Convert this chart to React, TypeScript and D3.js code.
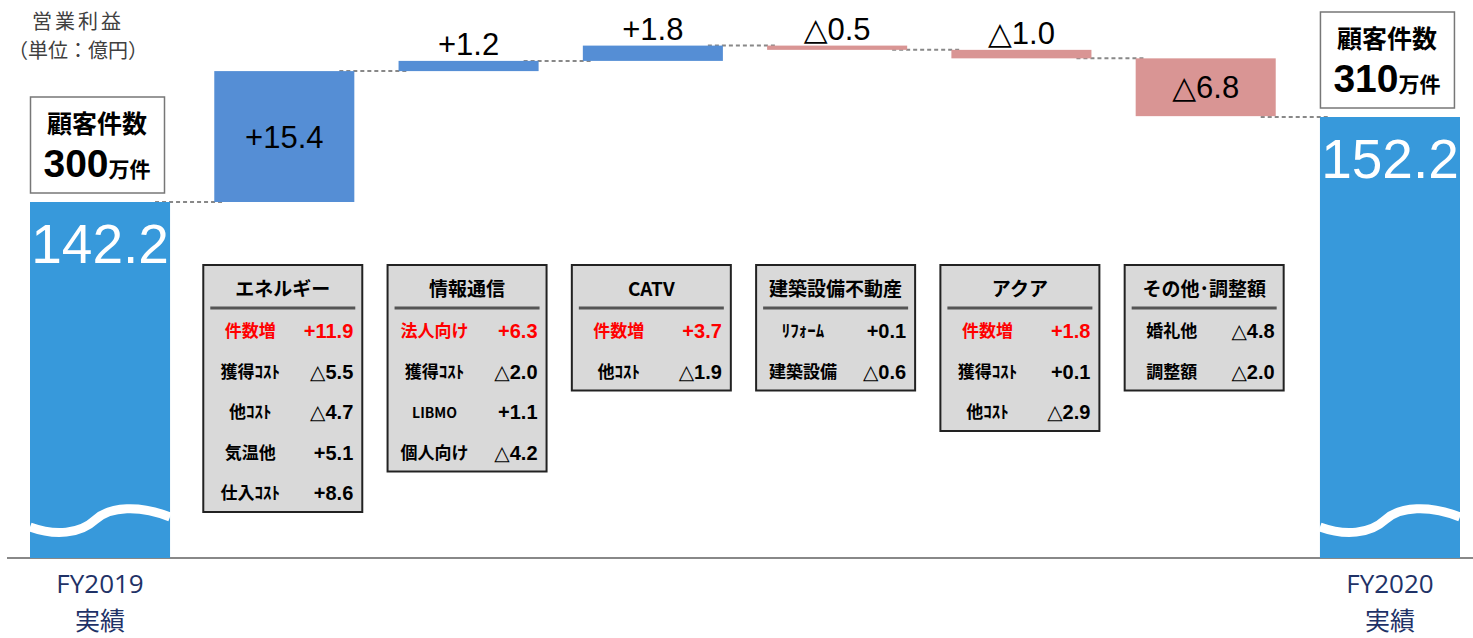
import React, { useEffect, useRef } from 'react';
import * as d3 from 'd3';

// categories along the x axis
const categories = ['FY2019', 'エネルギー', '情報通信', 'CATV', '建築設備不動産', 'アクア', 'その他･調整額', 'FY2020'];
const totalLabels = ['FY2019', 'FY2020'];
const totalSubLabel = '実績';
const totals = [142.2, 152.2];
const customerCounts = ['300', '310'];

// waterfall steps
const deltas = [15.4, 1.2, 1.8, -0.5, -1.0, -6.8];
const deltaLabels = ['+15.4', '+1.2', '+1.8', '△0.5', '△1.0', '△6.8'];

// breakdown tables under each step
const breakdownLabels = [
  ['件数増', '獲得ｺｽﾄ', '他ｺｽﾄ', '気温他', '仕入ｺｽﾄ'],
  ['法人向け', '獲得ｺｽﾄ', 'LIBMO', '個人向け'],
  ['件数増', '他ｺｽﾄ'],
  ['ﾘﾌｫｰﾑ', '建築設備'],
  ['件数増', '獲得ｺｽﾄ', '他ｺｽﾄ'],
  ['婚礼他', '調整額'],
];
const breakdownValues = [
  ['+11.9', '△5.5', '△4.7', '+5.1', '+8.6'],
  ['+6.3', '△2.0', '+1.1', '△4.2'],
  ['+3.7', '△1.9'],
  ['+0.1', '△0.6'],
  ['+1.8', '+0.1', '△2.9'],
  ['△4.8', '△2.0'],
];
const breakdownHighlight = [true, true, true, false, true, false];

const W = 1473;
const H = 638;
const JP = '"Noto Sans CJK JP", "Noto Sans", sans-serif';
const LAT = '"Liberation Sans", Arial, "DejaVu Sans", sans-serif';

export default function App() {
  const ref = useRef<SVGSVGElement>(null);

  useEffect(() => {
    if (!ref.current) return;
    const svg = d3.select(ref.current);
    svg.selectAll('*').remove();

    const baseline = 558;
    const x = d3.scaleBand<string>()
      .domain(categories)
      .range([30, 1460])
      .paddingInner(0.24)
      .paddingOuter(0);
    const bw = x.bandwidth();

    // broken axis: step bars use this scale, total bars run down to the baseline
    const y = d3.scaleLinear().domain([totals[0], totals[1]]).range([202, 117]);

    // build step data
    let level = totals[0];
    const steps = deltas.map((d, i) => {
      const start = level;
      level += d;
      return { cat: categories[i + 1], start, end: level, d, label: deltaLabels[i] };
    });

    // connectors
    const levels = [totals[0], ...steps.map(s => s.end)];
    const conn = svg.append('g');
    levels.forEach((lv, i) => {
      const x0 = (x(categories[i]) as number) + bw - 15;
      const x1 = (x(categories[i + 1]) as number) + 8;
      const yy = i === levels.length - 1 ? y(totals[1]) : y(lv);
      conn.append('line')
        .attr('x1', x0).attr('x2', x1)
        .attr('y1', yy).attr('y2', yy)
        .attr('stroke', '#888')
        .attr('stroke-width', 2)
        .attr('stroke-dasharray', '4 3');
    });

    // baseline
    svg.append('line')
      .attr('x1', 7).attr('x2', W)
      .attr('y1', baseline).attr('y2', baseline)
      .attr('stroke', '#888')
      .attr('stroke-width', 2);

    // total bars
    totals.forEach((t, i) => {
      const cat = categories[i === 0 ? 0 : categories.length - 1];
      const bx = x(cat) as number;
      const top = y(t);
      const g = svg.append('g');
      g.append('rect')
        .attr('x', bx).attr('y', top)
        .attr('width', bw).attr('height', baseline - top)
        .attr('fill', '#3799DB');
      g.append('path')
        .attr('d', `M${bx},527 C${bx + 25},536 ${bx + 50},534 ${bx + 65},520 C${bx + 80},506 ${bx + 110},505 ${bx + bw},517`)
        .attr('fill', 'none')
        .attr('stroke', '#fff')
        .attr('stroke-width', 9);
      g.append('text')
        .attr('x', bx + bw / 2).attr('y', top + 61)
        .attr('text-anchor', 'middle')
        .style('font-family', LAT)
        .style('font-size', '55px')
        .attr('fill', '#fff')
        .text(t.toFixed(1));

      // customer count box
      const boxTop = top - 105;
      g.append('rect')
        .attr('x', bx + 0.5).attr('y', boxTop)
        .attr('width', 134).attr('height', 96)
        .attr('fill', '#fff')
        .attr('stroke', '#777')
        .attr('stroke-width', 1.5);
      g.append('text')
        .attr('x', bx + 67).attr('y', boxTop + 36)
        .attr('text-anchor', 'middle')
        .style('font-family', JP)
        .style('font-weight', 700)
        .style('font-size', '25px')
        .attr('fill', '#000')
        .text('顧客件数');
      const ct = g.append('text')
        .attr('x', bx + 67).attr('y', boxTop + 80)
        .attr('text-anchor', 'middle')
        .style('font-family', JP)
        .style('font-weight', 700)
        .attr('fill', '#000');
      ct.append('tspan').style('font-family', LAT).style('font-size', '39px').text(customerCounts[i]);
      ct.append('tspan').style('font-size', '21px').text('万件');

      // axis labels
      g.append('text')
        .attr('x', bx + bw / 2).attr('y', 593)
        .attr('text-anchor', 'middle')
        .style('font-family', '"Open Sans", "Noto Sans", sans-serif')
        .style('font-size', '26px')
        .attr('fill', '#1F3267')
        .text(totalLabels[i]);
      g.append('text')
        .attr('x', bx + bw / 2).attr('y', 630)
        .attr('text-anchor', 'middle')
        .style('font-family', JP)
        .style('font-size', '25px')
        .attr('fill', '#1F3267')
        .text(totalSubLabel);
    });

    // step bars
    const sg = svg.append('g');
    steps.forEach(s => {
      const bx = x(s.cat) as number;
      const top = y(Math.max(s.start, s.end));
      const bot = y(Math.min(s.start, s.end));
      sg.append('rect')
        .attr('x', bx).attr('y', top)
        .attr('width', bw).attr('height', bot - top)
        .attr('fill', s.d >= 0 ? '#558ED5' : '#D99594');
      const inside = bot - top > 40;
      sg.append('text')
        .attr('x', bx + bw / 2)
        .attr('y', inside ? (top + bot) / 2 + 11 : top - 6)
        .attr('text-anchor', 'middle')
        .style('font-family', LAT)
        .style('font-size', '31px')
        .attr('fill', '#000')
        .text(s.label);
    });

    // breakdown tables
    const tg = svg.append('g');
    steps.forEach((s, i) => {
      const bx = (x(s.cat) as number) - 11;
      const bwid = 159;
      const top = 265;
      const rows = breakdownLabels[i];
      const h = 72 + (rows.length - 1) * 40.5 + 13;
      tg.append('rect')
        .attr('x', bx).attr('y', top)
        .attr('width', bwid).attr('height', h)
        .attr('fill', '#D9D9D9')
        .attr('stroke', '#222')
        .attr('stroke-width', 2);
      tg.append('text')
        .attr('x', bx + bwid / 2).attr('y', top + 31)
        .attr('text-anchor', 'middle')
        .style('font-family', JP)
        .style('font-weight', 700)
        .style('font-size', '19px')
        .attr('fill', '#000')
        .text(s.cat);
      tg.append('line')
        .attr('x1', bx + 7).attr('x2', bx + bwid - 7)
        .attr('y1', top + 43).attr('y2', top + 43)
        .attr('stroke', '#555')
        .attr('stroke-width', 3);
      rows.forEach((lab, r) => {
        const yy = top + 72 + r * 40.5;
        const col = breakdownHighlight[i] && r === 0 ? '#FF0000' : '#000';
        tg.append('text')
          .attr('x', bx + 47).attr('y', yy)
          .attr('text-anchor', 'middle')
          .style('font-family', JP)
          .style('font-weight', 700)
          .style('font-size', lab === 'LIBMO' ? '14px' : '17px')
          .attr('fill', col)
          .text(lab);
        tg.append('text')
          .attr('x', bx + bwid - 9).attr('y', yy + 1)
          .attr('text-anchor', 'end')
          .style('font-family', LAT)
          .style('font-weight', 700)
          .style('font-size', '20px')
          .attr('fill', col)
          .text(breakdownValues[i][r]);
      });
    });

    // unit caption
    svg.append('text')
      .attr('x', 78).attr('y', 29)
      .attr('text-anchor', 'middle')
      .style('font-family', JP)
      .style('font-size', '20px')
      .style('letter-spacing', '3px')
      .attr('fill', '#404040')
      .text('営業利益');
    svg.append('text')
      .attr('x', 78).attr('y', 58)
      .attr('text-anchor', 'middle')
      .style('font-family', JP)
      .style('font-size', '20px')
      .attr('fill', '#404040')
      .text('（単位：億円）');
  }, []);

  return (
    <svg
      ref={ref}
      width={W}
      height={H}
      style={{ position: 'absolute', left: 0, top: 0, background: '#fff' }}
    />
  );
}
